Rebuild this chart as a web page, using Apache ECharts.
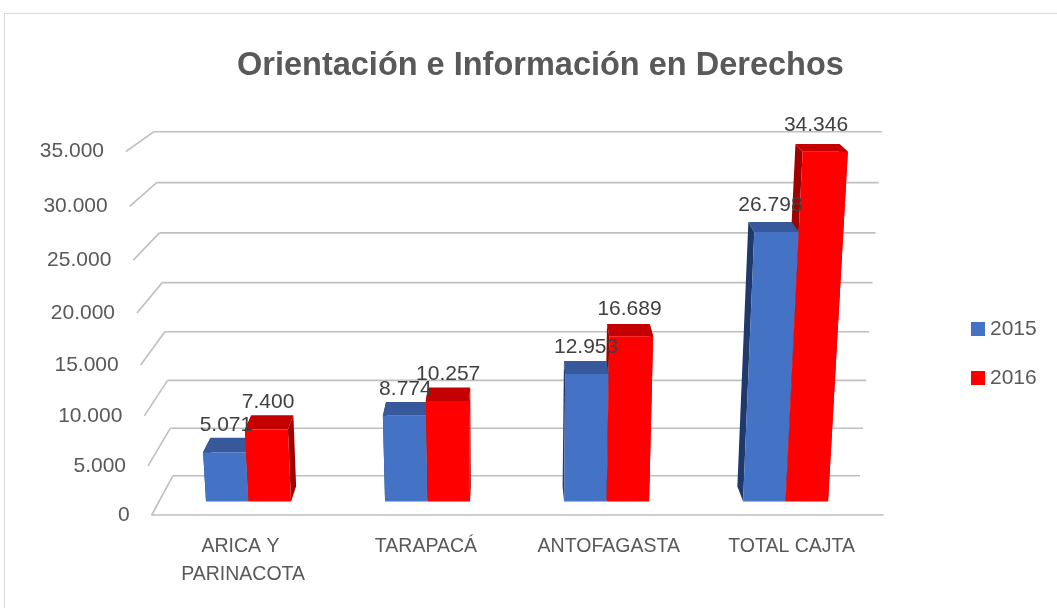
<!DOCTYPE html>
<html>
<head>
<meta charset="utf-8">
<script src="https://cdn.jsdelivr.net/npm/echarts@6/dist/echarts.min.js"></script>
<style>html,body{margin:0;padding:0;background:#fff}#c{width:1057px;height:608px}</style>
</head>
<body>
<div id="c"></div>
<script>
// ---- data ----
const chartTitle = 'Orientación e Información en Derechos';
const categories = ['ARICA Y PARINACOTA', 'TARAPACÁ', 'ANTOFAGASTA', 'TOTAL CAJTA'];
const seriesNames = ['2015', '2016'];
const values2015 = [5071, 8774, 12953, 26798];
const values2016 = [7400, 10257, 16689, 34346];
const yTicks = [0, 5000, 10000, 15000, 20000, 25000, 30000, 35000];

// ---- style / layout constants (3D box look) ----
const FONT = '"Liberation Sans", Arial, sans-serif';
const BOX = {
  backLeft0: 173, backLeft1: 154, backRight0: 860, backRight1: 881.7,
  frontLeft0: 151.7, frontLeft1: 126, frontRight0: 883, frontRight1: 907,
  backY0: 475.7, backLin: 329.7, backQuad: 14.3,
  frontY0: 515, frontLin: 340.2, frontQuad: 23.3
};
const T_FRONT = 0.655, T_BACK = 0.27, BAR_FRAC = 0.2374;
const COLORS = [
  { front: '#4472C4', top: '#37599c', side: '#20396b' },
  { front: '#FF0000', top: '#c40000', side: '#a00000' }
];

function proj(u, f, t) {
  const yb = BOX.backY0 - (BOX.backLin * f + BOX.backQuad * f * f);
  const yf = BOX.frontY0 - (BOX.frontLin * f + BOX.frontQuad * f * f);
  const xlb = BOX.backLeft0 + (BOX.backLeft1 - BOX.backLeft0) * f;
  const xrb = BOX.backRight0 + (BOX.backRight1 - BOX.backRight0) * f;
  const xlf = BOX.frontLeft0 + (BOX.frontLeft1 - BOX.frontLeft0) * f;
  const xrf = BOX.frontRight0 + (BOX.frontRight1 - BOX.frontRight0) * f;
  const xl = xlb + (xlf - xlb) * t, xr = xrb + (xrf - xrb) * t;
  return [xl + u * (xr - xl), yb + (yf - yb) * t];
}
function fmt(v) { return String(v).replace(/\B(?=(\d{3})+(?!\d))/g, '.'); }

function frameRender(params, api) {
  const cs = params.coordSys;
  const v = api.value(1);
  const p = api.coord([0, v]);
  const f = (cs.y + cs.height - p[1]) / cs.height;
  const bl = proj(0, f, 0), br = proj(1, f, 0), fl = proj(0, f, 1);
  const ls = { stroke: '#bfbfbf', lineWidth: 1.6 };
  return {
    type: 'group',
    children: [
      { type: 'line', shape: { x1: bl[0], y1: bl[1], x2: br[0], y2: br[1] }, style: ls },
      { type: 'line', shape: { x1: bl[0], y1: bl[1], x2: fl[0], y2: fl[1] }, style: ls },
      { type: 'text', style: { x: fl[0] - 22, y: fl[1], text: fmt(v), align: 'right', verticalAlign: 'middle',
          fill: '#595959', font: '21px ' + FONT } }
    ]
  };
}

function barRender(side) {
  const col = COLORS[side];
  return function (params, api) {
    const cs = params.coordSys;
    const ci = api.value(0), v = api.value(1);
    const top = api.coord([ci, v]);
    const base = api.coord([ci, 0]);
    const band = api.size([1, 0])[0];
    const uc = (base[0] - cs.x) / cs.width;
    const bw = BAR_FRAC * band / cs.width;
    const u0 = side === 0 ? uc - bw : uc;
    const u1 = u0 + bw;
    const f = (cs.y + cs.height - top[1]) / cs.height;
    const f0 = (cs.y + cs.height - base[1]) / cs.height;
    const P = proj;
    const poly = (pts, fill, z2) => ({ type: 'polygon', shape: { points: pts }, style: { fill: fill }, z2: z2 });
    const lp = P((u0 + u1) / 2, (f0 + f) / 2, T_FRONT);
    const ly = P((u0 + u1) / 2, f, T_FRONT)[1] - 27;
    return {
      type: 'group',
      children: [
        poly([P(u0, f0, T_FRONT), P(u0, f, T_FRONT), P(u0, f, T_BACK), P(u0, f0, T_BACK)], col.side, 10),
        poly([P(u1, f0, T_FRONT), P(u1, f, T_FRONT), P(u1, f, T_BACK), P(u1, f0, T_BACK)], col.side, 10),
        poly([P(u0, f, T_FRONT), P(u1, f, T_FRONT), P(u1, f, T_BACK), P(u0, f, T_BACK)], col.top, 20),
        poly([P(u0, f0, T_FRONT), P(u1, f0, T_FRONT), P(u1, f, T_FRONT), P(u0, f, T_FRONT)], col.front, 30),
        { type: 'text', z2: 100, style: { x: lp[0], y: ly, text: fmt(v), align: 'center', verticalAlign: 'middle',
            fill: '#404040', font: '21px ' + FONT } }
      ]
    };
  };
}

const chart = echarts.init(document.getElementById('c'), null, { renderer: 'canvas' });
chart.setOption({
  animation: false,
  backgroundColor: '#ffffff',
  title: {
    text: chartTitle, left: 237, top: 50, padding: 0,
    textStyle: { fontSize: 32.5, fontWeight: 'bold', color: '#595959', fontFamily: FONT }
  },
  legend: {
    data: seriesNames, orient: 'vertical', left: 966, top: 313,
    itemWidth: 14, itemHeight: 14, itemGap: 27, icon: 'rect',
    textStyle: { fontSize: 21, lineHeight: 22, color: '#595959', fontFamily: FONT }
  },
  graphic: [{
    type: 'rect', silent: true, z: -10,
    shape: { x: 4.5, y: 13.5, width: 1200, height: 800 },
    style: { fill: 'none', stroke: '#d9d9d9', lineWidth: 1 }
  }],
  grid: { left: BOX.frontLeft0, right: 1057 - BOX.frontRight0, top: 151.5, bottom: 608 - BOX.frontY0 },
  xAxis: {
    type: 'category', data: categories,
    axisLine: { lineStyle: { color: '#bfbfbf', width: 1.6 } },
    axisTick: { show: false }, splitLine: { show: false },
    axisLabel: { interval: 0, color: '#595959', fontSize: 19.5, fontFamily: FONT, margin: 18,
      lineHeight: 28, width: 160, overflow: 'break' }
  },
  yAxis: { type: 'value', min: 0, max: 35000, interval: 5000, show: false },
  series: [
    { name: 'frame', type: 'custom', silent: true, z: 1, renderItem: frameRender,
      data: yTicks.map(v => [0, v]), encode: { x: 0, y: 1 } },
    { name: seriesNames[0], type: 'custom', z: 2, renderItem: barRender(0),
      itemStyle: { color: COLORS[0].front }, data: values2015.map((v, i) => [i, v]), encode: { x: 0, y: 1 } },
    { name: seriesNames[1], type: 'custom', z: 2, renderItem: barRender(1),
      itemStyle: { color: COLORS[1].front }, data: values2016.map((v, i) => [i, v]), encode: { x: 0, y: 1 } }
  ]
});
</script>
</body>
</html>
